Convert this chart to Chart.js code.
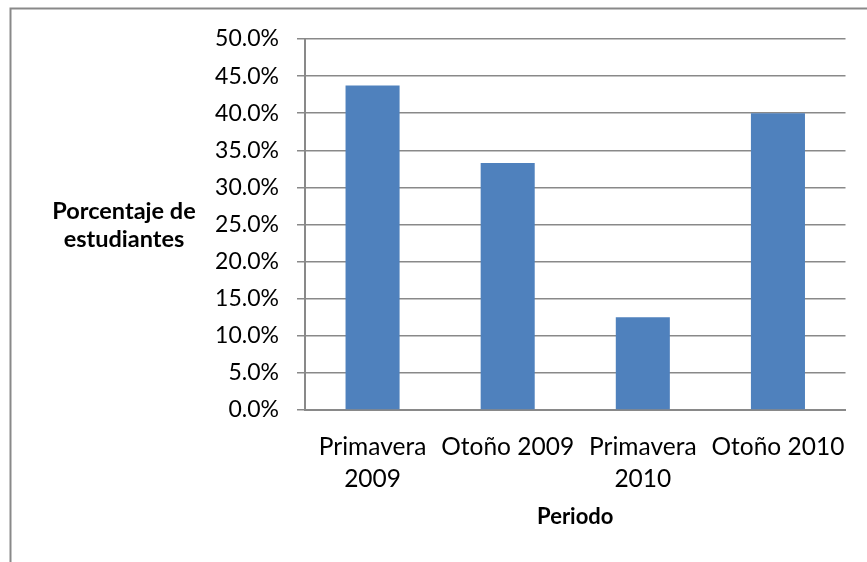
<!DOCTYPE html>
<html>
<head>
<meta charset="utf-8">
<script src="https://cdn.jsdelivr.net/npm/chart.js@4.4.1/dist/chart.umd.min.js"></script>
<style>
  html, body { margin: 0; padding: 0; background: #fff; }
  #wrap { width: 867px; height: 562px; }
</style>
</head>
<body>
<div id="wrap"><canvas id="barras" width="867" height="562"></canvas></div>
<script>
// periodos del eje x
var periodos = [['Primavera', '2009'], 'Otoño 2009', ['Primavera', '2010'], 'Otoño 2010'];
// porcentaje de estudiantes por periodo
var porcentajes = [43.75, 33.3, 12.5, 40.0];
var yMin = 0, yMax = 50, yPaso = 5;
var tituloY = ['Porcentaje de', 'estudiantes'];
var tituloX = 'Periodo';

var gris = '#898989';
var fuente = 'Lato, "Open Sans", sans-serif';

// marco de la grafica y titulo horizontal del eje y
var marco = {
    id: 'marco',
    beforeDraw: function(chart) {
        var ctx = chart.ctx;
        ctx.save();
        ctx.fillStyle = '#fff';
        ctx.fillRect(0, 0, chart.width, chart.height);
        ctx.strokeStyle = gris;
        ctx.lineWidth = 2;
        ctx.beginPath();
        ctx.moveTo(10.5, chart.height);
        ctx.lineTo(10.5, 8.5);
        ctx.lineTo(chart.width, 8.5);
        ctx.stroke();
        ctx.restore();
    },
    afterDraw: function(chart) {
        var ctx = chart.ctx;
        ctx.save();
        ctx.fillStyle = '#000';
        ctx.font = 'bold 23.5px ' + fuente;
        ctx.textAlign = 'center';
        ctx.textBaseline = 'middle';
        ctx.fillText(tituloY[0], 124, 211);
        ctx.fillText(tituloY[1], 124, 239);
        ctx.restore();
    }
};

var config = {
    type: 'bar',
    data: {
        labels: periodos,
        datasets: [{
            label: 'Porcentaje',
            data: porcentajes,
            backgroundColor: '#4F81BD',
            borderWidth: 0,
            barPercentage: 0.4,
            categoryPercentage: 1.0
        }]
    },
    options: {
        responsive: false,
        animation: false,
        layout: { padding: { left: 0, top: 39, right: 13, bottom: 0 } },
        plugins: {
            legend: { display: false },
            tooltip: { enabled: false }
        },
        scales: {
            x: {
                grid: { display: true, drawOnChartArea: false, drawTicks: false },
                border: { display: true, color: gris, width: 2 },
                ticks: {
                    color: '#000',
                    font: { family: fuente, size: 24.5, lineHeight: 1.3 },
                    padding: 21,
                    maxRotation: 0,
                    autoSkip: false
                },
                title: {
                    display: true,
                    text: tituloX,
                    color: '#000',
                    font: { family: fuente, size: 22, weight: 'bold', lineHeight: 1.2 },
                    padding: { top: 0, bottom: 32 }
                },
                afterFit: function(eje) { eje.height = 152; }
            },
            y: {
                min: yMin,
                max: yMax,
                ticks: {
                    stepSize: yPaso,
                    color: '#000',
                    font: { family: fuente, size: 23 },
                    padding: 18,
                    callback: function(v) { return v.toFixed(1) + '%'; }
                },
                grid: { color: gris, lineWidth: 1.5, tickLength: 8 },
                border: { display: true, color: gris, width: 2 },
                afterFit: function(eje) { eje.width = 305; }
            }
        }
    },
    plugins: [marco]
};

window.myBar = new Chart(document.getElementById('barras'), config);
</script>
</body>
</html>
